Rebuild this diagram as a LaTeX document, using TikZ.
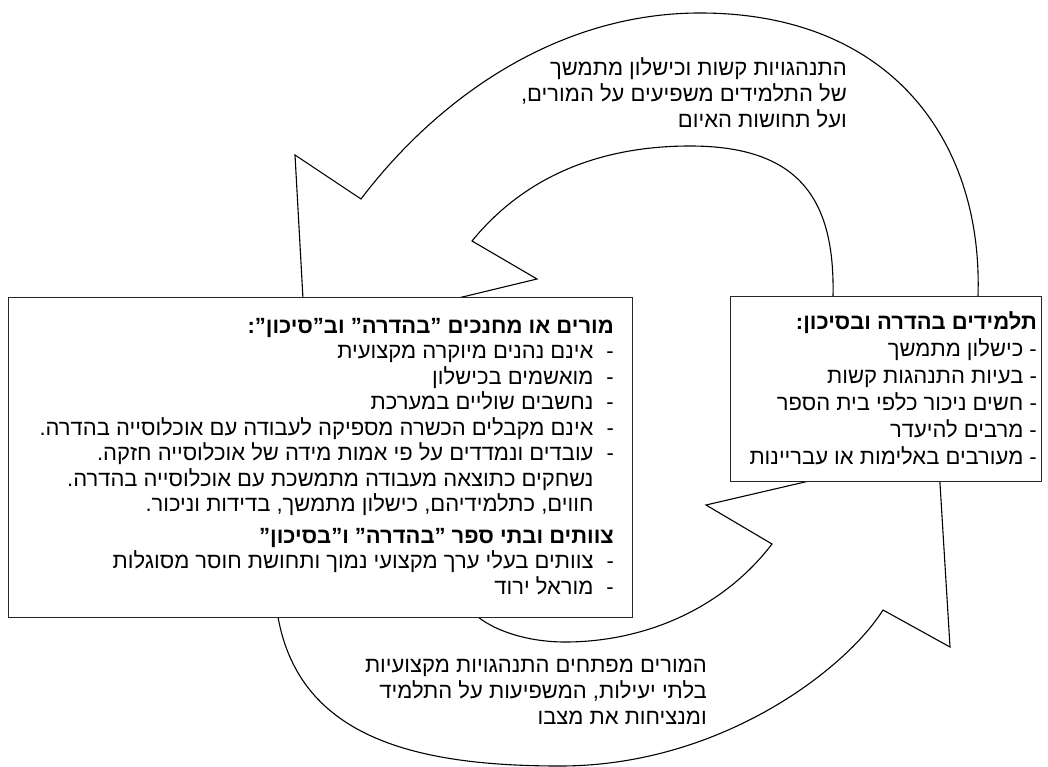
\documentclass[tikz,border=0pt]{standalone}
\usepackage{fontspec}
\setmainfont{Liberation Sans}
\newfontfamily\heb[Script=Hebrew]{Liberation Sans}
\TeXXeTstate=1
\newcommand{\RL}[1]{\beginR #1\endR}
\begin{document}
\begin{tikzpicture}[x=1pt,y=-1pt,
  arrowshape/.style={draw=black, fill=white, line width=1.1pt, line join=miter},
  boxstyle/.style={draw=black!85, fill=white, line width=1.1pt, inner sep=0pt},
  txt/.style={inner sep=0pt, font=\heb\fontsize{22}{25.5}\selectfont}]
\useasboundingbox (0,0) rectangle (1048,767);

% upper curved arrow (from students' box to teachers' box)
\draw[arrowshape] (978,310) -- (978,296)
  .. controls (983,140) and (890,13) .. (700,13)
  .. controls (560,13) and (440,95) .. (361,199)
  -- (295,155) -- (305,335) -- (537,279) -- (472,241)
  .. controls (530,170) and (610,146) .. (690,146)
  .. controls (800,146) and (835,200) .. (833,296)
  -- (833,310) -- cycle;

% lower curved arrow (from teachers' box to students' box)
\draw[arrowshape] (278,600) -- (278,617)
  .. controls (300,740) and (420,766) .. (560,766)
  .. controls (720,766) and (845,670) .. (883,610)
  -- (950,647) -- (938,451) -- (706,505) -- (772,544)
  .. controls (720,612) and (640,642) .. (565,642)
  .. controls (530,642) and (497,632) .. (478,617)
  -- (478,600) -- cycle;

% boxes
\node[boxstyle, minimum width=624pt, minimum height=320pt, anchor=north west] (lbox) at (8,297) {};
\node[boxstyle, minimum width=311pt, minimum height=185pt, anchor=north west] (rbox) at (730,296) {};

% left box text
\node[txt, anchor=base east] (ltext) at (614,333) {%
\begin{tabular}[t]{@{}r@{\hspace{13pt}}l@{}}
\multicolumn{2}{@{}r@{}}{\bfseries\RL{מורים או מחנכים ”בהדרה” וב”סיכון”:}}\\
\RL{אינם נהנים מיוקרה מקצועית} & -\\
\RL{מואשמים בכישלון} & -\\
\RL{נחשבים שוליים במערכת} & -\\
\RL{אינם מקבלים הכשרה מספיקה לעבודה עם אוכלוסייה בהדרה.} & -\\
\RL{עובדים ונמדדים על פי אמות מידה של אוכלוסייה חזקה.} & -\\
\RL{נשחקים כתוצאה מעבודה מתמשכת עם אוכלוסייה בהדרה.} & \\
\RL{חווים, כתלמידיהם, כישלון מתמשך, בדידות וניכור.} & \\[6pt]
\multicolumn{2}{@{}r@{}}{\bfseries\RL{צוותים ובתי ספר ”בהדרה” ו”בסיכון”}}\\
\RL{צוותים בעלי ערך מקצועי נמוך ותחושת חוסר מסוגלות} & -\\
\RL{מוראל ירוד} & -
\end{tabular}};

% right box text
\node[txt, anchor=base east, font=\heb\fontsize{22}{27}\selectfont] (rtext) at (1037,329) {%
\begin{tabular}[t]{@{}r@{}}
\bfseries\RL{תלמידים בהדרה ובסיכון:}\\
\RL{- כישלון מתמשך}\\
\RL{- בעיות התנהגות קשות}\\
\RL{- חשים ניכור כלפי בית הספר}\\
\RL{- מרבים להיעדר}\\
\RL{- מעורבים באלימות או עבריינות}
\end{tabular}};

% arrow labels
\node[txt, anchor=base east, font=\heb\fontsize{22}{26}\selectfont] (toplabel) at (847,76) {%
\begin{tabular}[t]{@{}r@{}}
\RL{התנהגויות קשות וכישלון מתמשך}\\
\RL{של התלמידים משפיעים על המורים,}\\
\RL{ועל תחושות האיום}
\end{tabular}};

\node[txt, anchor=base east, font=\heb\fontsize{22}{26}\selectfont] (botlabel) at (707,672) {%
\begin{tabular}[t]{@{}r@{}}
\RL{המורים מפתחים התנהגויות מקצועיות}\\
\RL{בלתי יעילות, המשפיעות על התלמיד}\\
\RL{ומנציחות את מצבו}
\end{tabular}};
\end{tikzpicture}
\end{document}
